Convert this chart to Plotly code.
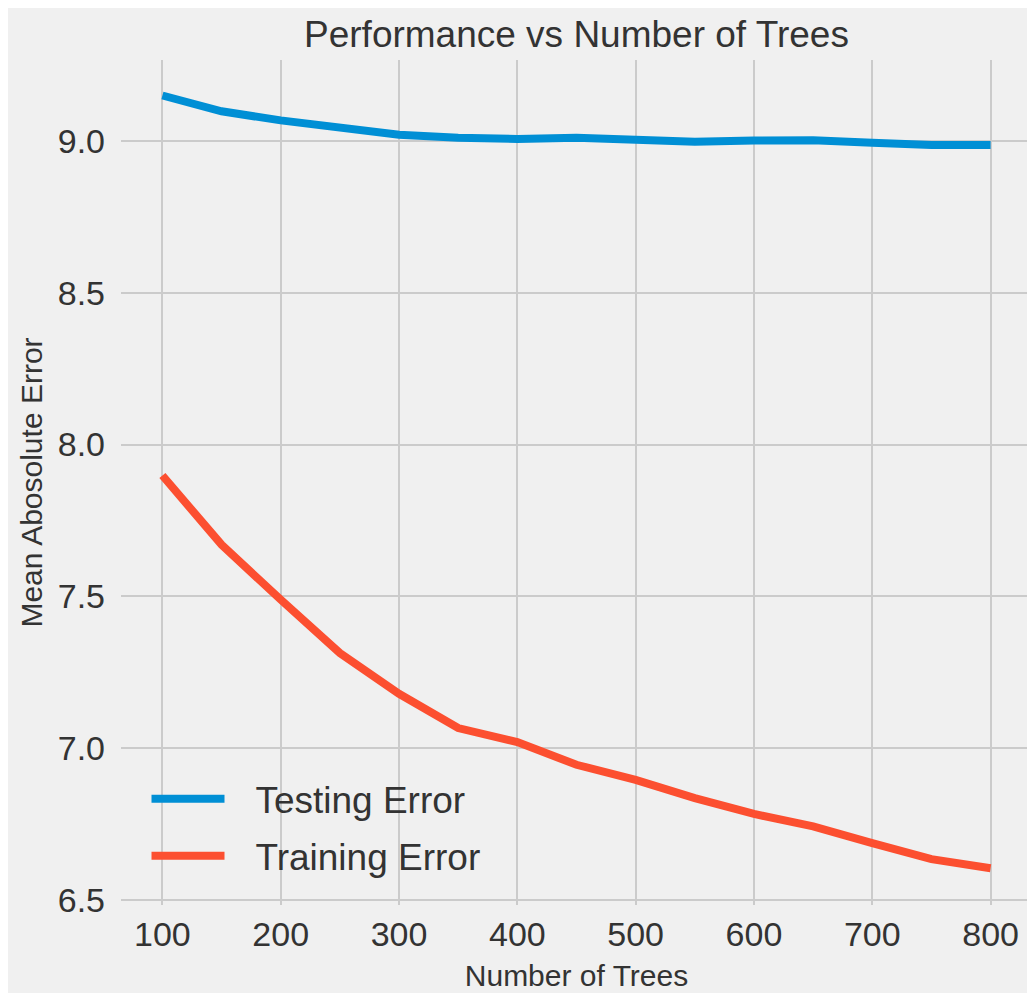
import plotly.graph_objects as go

n_trees = [100, 150, 200, 250, 300, 350, 400, 450, 500, 550, 600, 650, 700, 750, 800]
testing_error = [9.150, 9.098, 9.068, 9.043, 9.021, 9.011, 9.007, 9.011, 9.003, 8.998,
                 9.002, 9.003, 8.994, 8.987, 8.987]
training_error = [7.898, 7.670, 7.489, 7.313, 7.179, 7.066, 7.020, 6.945, 6.895, 6.835,
                  6.783, 6.742, 6.687, 6.634, 6.604]
x_ticks = [100, 200, 300, 400, 500, 600, 700, 800]
y_ticks = [6.5, 7.0, 7.5, 8.0, 8.5, 9.0]

FONT = "Liberation Sans, Arial, sans-serif"
TXT = "#333333"
PAD = "\u2002\u2009"

fig = go.Figure()
fig.add_trace(go.Scatter(x=n_trees, y=testing_error, mode="lines", name=PAD + "Testing Error",
                         legendgroup="test", line=dict(color="#008fd5", width=8)))
fig.add_trace(go.Scatter(x=n_trees, y=training_error, mode="lines", name=PAD + "Training Error",
                         legendgroup="train", line=dict(color="#fc4f30", width=8)))

fig.update_layout(
    width=1027, height=985,
    margin=dict(l=113, r=3, t=52, b=88),
    paper_bgcolor="#f0f0f0", plot_bgcolor="#f0f0f0",
    font=dict(family=FONT, color=TXT),
    title=dict(text="Performance vs Number of Trees", x=0.5, xref="paper",
               y=1 - 26 / 985, yref="container", yanchor="middle", xanchor="center",
               font=dict(size=37, color=TXT)),
    xaxis=dict(range=[65, 835], tickvals=x_ticks, ticktext=[str(v) for v in x_ticks],
               showgrid=True, gridcolor="#cbcbcb", gridwidth=2, zeroline=False,
               showline=False, ticks="", tickfont=dict(size=34, color=TXT),
               ticklabelstandoff=6,
               title=dict(text="Number of Trees", font=dict(size=30, color=TXT), standoff=12)),
    yaxis=dict(range=[6.483, 9.267], tickvals=y_ticks, ticktext=[f"{v:.1f}" for v in y_ticks],
               showgrid=True, gridcolor="#cbcbcb", gridwidth=2, zeroline=False,
               showline=False, ticks="", tickfont=dict(size=34, color=TXT),
               ticklabelstandoff=15,
               title=dict(text="Mean Abosolute Error", font=dict(size=30, color=TXT), standoff=6)),
    legend=dict(x=0.028, y=0.162, xanchor="left", yanchor="top", bgcolor="rgba(0,0,0,0)",
                font=dict(size=37, color=TXT), itemwidth=73, tracegroupgap=6),
    showlegend=True,
)

fig.write_html("out.html")
